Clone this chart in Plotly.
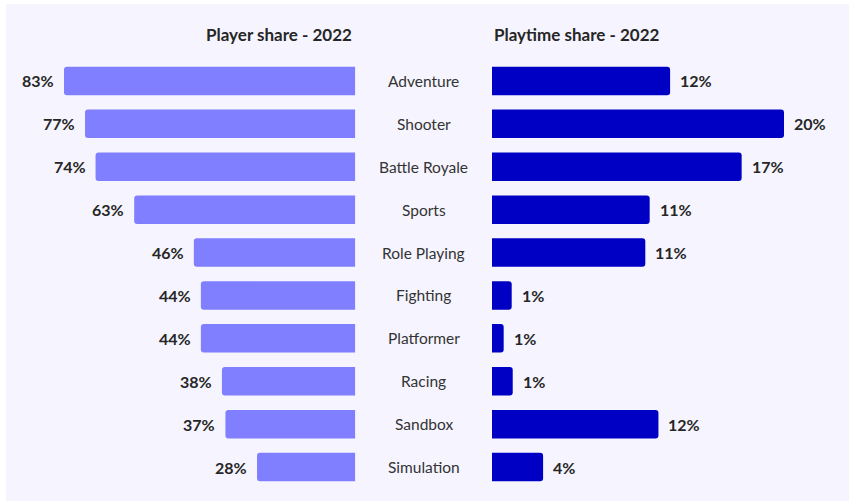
import plotly.graph_objects as go

genres = ['Adventure', 'Shooter', 'Battle Royale', 'Sports', 'Role Playing',
          'Fighting', 'Platformer', 'Racing', 'Sandbox', 'Simulation']
player_share = [83, 77, 74, 63, 46, 44, 44, 38, 37, 28]
player_labels = ['83%', '77%', '74%', '63%', '46%', '44%', '44%', '38%', '37%', '28%']
playtime_share = [12.2, 20.0, 17.1, 10.8, 10.5, 1.35, 0.8, 1.42, 11.4, 3.5]
playtime_labels = ['12%', '20%', '17%', '11%', '11%', '1%', '1%', '1%', '12%', '4%']

W, H = 850, 502
FONT = 'Lato'
TEXT = '#262626'

fig = go.Figure()

# Player share (left, grows to the left)
fig.add_trace(go.Bar(
    x=player_share, y=genres, orientation='h',
    xaxis='x', yaxis='y',
    marker=dict(color='#7F7FFF', line=dict(width=0), cornerradius=3),
    hoverinfo='skip',
))
# Playtime share (right)
fig.add_trace(go.Bar(
    x=playtime_share, y=genres, orientation='h',
    xaxis='x2', yaxis='y',
    marker=dict(color='#0000C4', line=dict(width=0), cornerradius=3),
    hoverinfo='skip',
))

annotations = []
for g, v, t in zip(genres, player_share, player_labels):
    annotations.append(dict(x=v, y=g, xref='x', yref='y', text=t,
                            xanchor='right', xshift=-8, showarrow=False,
                            font=dict(family=FONT, size=16, color=TEXT, weight=700)))
for g, v, t in zip(genres, playtime_share, playtime_labels):
    annotations.append(dict(x=v, y=g, xref='x2', yref='y', text=t,
                            xanchor='left', xshift=8, showarrow=False,
                            font=dict(family=FONT, size=16, color=TEXT, weight=700)))
for g in genres:
    annotations.append(dict(x=423.5 / W, y=g, xref='paper', yref='y', text=g,
                            xanchor='center', showarrow=False,
                            font=dict(family=FONT, size=15.5, color='#333333')))

annotations.append(dict(x=354 / W, y=1 - 35 / H, xref='paper', yref='paper',
                        text='Player share - 2022', xanchor='right', yanchor='middle',
                        showarrow=False,
                        font=dict(family=FONT, size=17, color=TEXT, weight=700)))
annotations.append(dict(x=492 / W, y=1 - 35 / H, xref='paper', yref='paper',
                        text='Playtime share - 2022', xanchor='left', yanchor='middle',
                        showarrow=False,
                        font=dict(family=FONT, size=17, color=TEXT, weight=700)))

fig.update_layout(
    width=W, height=H,
    margin=dict(l=0, r=0, t=0, b=0),
    paper_bgcolor='white',
    plot_bgcolor='rgba(0,0,0,0)',
    showlegend=False,
    bargap=0.335,
    xaxis=dict(domain=[4.3 / W, 355.3 / W], range=[100, 0], visible=False,
               fixedrange=True),
    xaxis2=dict(domain=[492 / W, 842.4 / W], range=[0, 24], visible=False,
                anchor='y', fixedrange=True),
    yaxis=dict(domain=[1 - 488.5 / H, 1 - 59.5 / H],
               range=[len(genres) - 0.5, -0.5], visible=False,
               categoryorder='array', categoryarray=genres, fixedrange=True),
    annotations=annotations,
    shapes=[dict(type='rect', xref='paper', yref='paper',
                 x0=6 / W, x1=849 / W, y0=1 - 501 / H, y1=1 - 4 / H,
                 fillcolor='#F6F5FF', line=dict(width=0), layer='below')],
)

# page body has an 8px default margin; drop it so the chart sits at 0,0
fig.write_html('out.html', config={'displayModeBar': False},
               post_script="document.body.style.margin='0';")
